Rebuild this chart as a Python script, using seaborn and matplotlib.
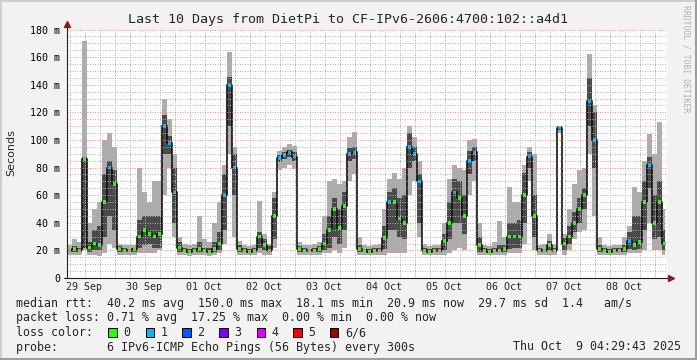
import matplotlib as mpl
mpl.use("Agg")
import matplotlib.pyplot as plt
from matplotlib.lines import Line2D
from matplotlib.patches import Rectangle
from matplotlib.ticker import MultipleLocator
import pandas as pd
import seaborn as sns

# hours since 29 Sep 00:00, one reading every 2 hours
hours = list(range(4, 246, 2))

# median rtt (ms), grouped per day
median = [
    20, 20, 21, 20, 86, 22, 25, 24, 55, 80,
    68, 21, 20, 20, 21, 30, 35, 32, 30, 32, 110, 98,
    62, 22, 20, 19, 20, 21, 20, 19, 21, 25, 60, 140,
    80, 21, 20, 19, 20, 30, 24, 20, 45, 87, 89, 91,
    88, 21, 20, 20, 20, 21, 25, 35, 50, 36, 52, 90,
    91, 21, 20, 19, 20, 20, 29, 55, 55, 43, 40, 95,
    90, 70, 20, 19, 20, 20, 27, 40, 62, 58, 45, 85,
    91, 24, 20, 19, 20, 20, 21, 30, 30, 30, 60, 88,
    45, 20, 20, 24, 20, 109, 25, 30, 40, 50, 60, 128,
    100, 21, 20, 19, 20, 20, 21, 27, 24, 26, 55, 82,
    40, 55, 25,
]
# lost pings out of 6
loss = [
    0, 0, 0, 0, 0, 0, 0, 0, 0, 1,
    0, 0, 0, 0, 0, 0, 0, 0, 0, 0, 1, 1,
    1, 0, 0, 0, 0, 0, 0, 0, 0, 0, 1, 1,
    1, 0, 0, 0, 0, 0, 0, 0, 0, 1, 1, 1,
    1, 0, 0, 0, 0, 0, 0, 0, 0, 0, 0, 1,
    1, 0, 0, 0, 0, 0, 0, 1, 0, 0, 0, 1,
    1, 1, 0, 0, 0, 0, 0, 0, 1, 0, 0, 1,
    1, 0, 0, 0, 0, 0, 0, 0, 0, 0, 0, 1,
    0, 0, 0, 0, 0, 1, 0, 0, 0, 0, 0, 1,
    1, 0, 0, 0, 0, 0, 0, 1, 0, 0, 0, 1,
    0, 0, 0,
]
# outer smoke (min / max ping)
smoke_hi = [
    23, 24, 28, 26, 172, 40, 50, 55, 100, 105,
    95, 25, 24, 24, 24, 80, 62, 55, 70, 70, 130, 115,
    90, 30, 25, 24, 25, 45, 28, 26, 40, 55, 82, 164,
    95, 27, 24, 23, 24, 56, 32, 25, 62, 92, 95, 97,
    96, 26, 24, 24, 25, 26, 45, 70, 72, 68, 70, 102,
    106, 30, 24, 23, 24, 25, 50, 72, 76, 72, 80, 110,
    102, 85, 25, 23, 24, 24, 40, 72, 82, 80, 78, 100,
    101, 40, 24, 23, 26, 41, 30, 66, 55, 55, 82, 95,
    90, 24, 25, 32, 25, 110, 32, 50, 68, 78, 80, 162,
    125, 30, 24, 23, 24, 24, 30, 38, 66, 62, 85, 104,
    90, 113, 50,
]
smoke_lo = [
    17, 17, 17, 17, 20, 17, 17, 16, 18, 25,
    22, 17, 17, 17, 17, 18, 18, 18, 18, 20, 60, 80,
    30, 17, 17, 16, 17, 17, 17, 16, 17, 18, 25, 90,
    30, 17, 17, 17, 17, 18, 17, 17, 22, 78, 80, 82,
    79, 17, 17, 17, 17, 17, 18, 18, 20, 18, 22, 70,
    75, 17, 17, 17, 17, 17, 17, 18, 18, 18, 18, 60,
    70, 30, 17, 17, 17, 17, 17, 18, 20, 22, 20, 60,
    70, 17, 17, 17, 17, 17, 17, 18, 18, 18, 25, 70,
    20, 17, 17, 17, 17, 105, 17, 20, 28, 33, 35, 90,
    45, 17, 17, 17, 17, 17, 17, 18, 18, 18, 20, 40,
    20, 20, 17,
]
# inner smoke (2nd / 5th ping)
core_hi = [
    21, 21, 23, 22, 88, 26, 35, 38, 75, 85,
    78, 23, 22, 21, 22, 42, 45, 45, 45, 45, 118, 103,
    80, 26, 22, 21, 22, 26, 22, 22, 26, 33, 75, 146,
    90, 24, 22, 21, 22, 33, 28, 23, 58, 89, 91, 93,
    91, 23, 22, 21, 22, 23, 32, 45, 58, 50, 62, 94,
    95, 24, 21, 21, 22, 22, 38, 62, 65, 58, 60, 105,
    95, 75, 22, 21, 22, 22, 32, 55, 72, 70, 60, 92,
    95, 30, 22, 21, 22, 24, 24, 40, 40, 42, 76, 91,
    60, 22, 21, 27, 22, 110, 29, 38, 48, 58, 65, 145,
    120, 24, 22, 21, 22, 22, 24, 33, 45, 45, 70, 88,
    60, 70, 35,
]
core_lo = [
    19, 19, 19, 19, 22, 19, 20, 20, 30, 45,
    35, 19, 19, 19, 19, 22, 24, 25, 22, 22, 90, 90,
    40, 19, 19, 18, 19, 19, 19, 18, 19, 20, 35, 110,
    60, 19, 19, 18, 19, 22, 20, 19, 28, 84, 86, 88,
    85, 19, 19, 19, 19, 19, 20, 22, 30, 25, 35, 85,
    86, 19, 19, 18, 19, 19, 21, 35, 35, 30, 28, 80,
    85, 40, 19, 18, 19, 19, 20, 28, 40, 40, 32, 75,
    85, 19, 19, 18, 19, 19, 19, 21, 22, 22, 40, 80,
    30, 19, 19, 20, 19, 107, 20, 25, 33, 40, 50, 110,
    80, 19, 19, 18, 19, 19, 19, 21, 20, 21, 35, 65,
    28, 30, 20,
]

day_labels = ["29 Sep", "30 Sep", "01 Oct", "02 Oct", "03 Oct",
              "04 Oct", "05 Oct", "06 Oct", "07 Oct", "08 Oct"]
loss_names = ["0", "1", "2", "3", "4", "5", "6/6"]
loss_colors = ["#26ff00", "#00b8ff", "#0059ff", "#7e00ff", "#dd00ff", "#ff0000", "#a10000"]

df = pd.DataFrame({
    "hours": hours, "median": median, "loss": loss,
    "smoke_lo": smoke_lo, "smoke_hi": smoke_hi,
    "core_lo": core_lo, "core_hi": core_hi,
})

sns.set_style("white")
plt.rcParams["font.family"] = ["DejaVu Sans Mono"]

W, H = 697, 360
fig = plt.figure(figsize=(W / 100, H / 100), dpi=100, facecolor="#f2f2f2")
ax = fig.add_axes([67 / W, (H - 278) / H, 600 / W, 248.4 / H])
ax.set_facecolor("white")

# smoke
ax.fill_between(df["hours"], df["smoke_lo"], df["smoke_hi"], step="mid",
                color="#acacac", lw=0, zorder=1)
ax.fill_between(df["hours"], df["core_lo"], df["core_hi"], step="mid",
                color="#4a4a4a", lw=0, zorder=1.1)
sns.lineplot(data=df, x="hours", y="median", drawstyle="steps-mid", color="#111111",
             lw=1.2, errorbar=None, ax=ax, zorder=1.2)
sns.scatterplot(data=df, x="hours", y="median", hue="loss",
                palette={0: loss_colors[0], 1: loss_colors[1]}, marker="s", s=7,
                linewidth=0, legend=False, ax=ax, zorder=1.3)

ax.set_xlim(5, 245)
ax.set_ylim(0, 180)
ax.set_xlabel("")
ax.set_ylabel("")

ax.xaxis.set_major_locator(MultipleLocator(24))
ax.xaxis.set_minor_locator(MultipleLocator(6))
ax.set_yticks(range(0, 181, 20),
              labels=["0"] + [f"{v} m" for v in range(20, 181, 20)])
ax.yaxis.set_minor_locator(MultipleLocator(5))
ax.grid(which="minor", color="#b4b4b4", lw=0.72, ls=(0, (1, 1.5)))
ax.grid(which="major", color="#ec8f8f", lw=0.72, ls=(0, (1, 1.5)))
ax.set_axisbelow(False)

ax.tick_params(axis="x", which="major", length=2.2, width=0.7, color="#ec8f8f",
               labelbottom=False, direction="out")
ax.tick_params(axis="x", which="minor", length=1.4, width=0.7, color="#b4b4b4")
ax.tick_params(axis="y", which="major", length=2.2, width=0.7, color="#8f8f8f",
               labelsize=7.2, pad=2.8, labelcolor="black")
ax.tick_params(axis="y", which="minor", length=1.4, width=0.7, color="#b4b4b4")

for i, lab in enumerate(day_labels):
    ax.text(12 + 24 * i, -8.5 / 248.4, lab, transform=ax.get_xaxis_transform(),
            ha="center", va="center", fontsize=7.2)

for s in ax.spines.values():
    s.set_visible(False)

# axes with arrows
ax.add_line(Line2D([0, 0], [0, 1.016], transform=ax.transAxes, color="#1f1f1f",
                   lw=0.8, clip_on=False, zorder=5))
ax.add_line(Line2D([-0.005, 1.002], [0, 0], transform=ax.transAxes, color="#1f1f1f",
                   lw=0.8, clip_on=False, zorder=5))
ax.plot([0], [1.022], marker="^", ms=4.2, color="#801f1f", transform=ax.transAxes,
        clip_on=False, zorder=6)
ax.plot([1.006], [0], marker=">", ms=4.2, color="#801f1f", transform=ax.transAxes,
        clip_on=False, zorder=6)

# title, unit, watermark
fig.text(347.5 / W, 1 - 19 / H, "Last 10 Days from DietPi to CF-IPv6-2606:4700:102::a4d1",
         ha="center", va="center", fontsize=9.6)
fig.text(11 / W, 1 - 153 / H, "Seconds", rotation=90, ha="center", va="center",
         fontsize=8, family=["DejaVu Sans"])
fig.text(686 / W, 1 - 5 / H, "RRDTOOL / TOBI OETIKER", rotation=270, ha="center",
         va="top", fontsize=5.9, color="#b0b0b0")

# legend block
fs = 8.37
fig.text(16 / W, 1 - 304 / H,
         "median rtt:  40.2 ms avg  150.0 ms max  18.1 ms min  20.9 ms now  29.7 ms sd  1.4   am/s",
         va="center", fontsize=fs)
fig.text(16 / W, 1 - 318 / H,
         "packet loss: 0.71 % avg  17.25 % max  0.00 % min  0.00 % now",
         va="center", fontsize=fs)
fig.text(16 / W, 1 - 332.5 / H, "loss color:", va="center", fontsize=fs)
sq_left = [108.3, 145.7, 182.3, 219.3, 256.7, 293.3, 330.0]
for x0, name, col in zip(sq_left, loss_names, loss_colors):
    fig.add_artist(Rectangle((x0 / W, 1 - 336.7 / H), 8.3 / W, 8.3 / H,
                             transform=fig.transFigure, facecolor=col,
                             edgecolor="black", lw=0.7))
    fig.text((x0 + 15) / W, 1 - 332.5 / H, name, va="center", fontsize=fs)
fig.text(16 / W, 1 - 347 / H,
         "probe:       6 IPv6-ICMP Echo Pings (56 Bytes) every 300s",
         va="center", fontsize=fs)
fig.text(513 / W, 1 - 347 / H, "Thu Oct  9 04:29:43 2025", va="center", fontsize=fs)

# 3d frame
fig.add_artist(Line2D([0, 1], [1 - 1 / H, 1 - 1 / H], transform=fig.transFigure,
                      color="#cfcfcf", lw=1.4))
fig.add_artist(Line2D([1 / W, 1 / W], [0, 1], transform=fig.transFigure,
                      color="#cfcfcf", lw=1.4))
fig.add_artist(Line2D([0, 1], [1.5 / H, 1.5 / H], transform=fig.transFigure,
                      color="#9e9e9e", lw=2.2))
fig.add_artist(Line2D([1 - 1.5 / W, 1 - 1.5 / W], [0, 1], transform=fig.transFigure,
                      color="#9e9e9e", lw=2.2))

fig.savefig("out.png", dpi=100, facecolor=fig.get_facecolor())
